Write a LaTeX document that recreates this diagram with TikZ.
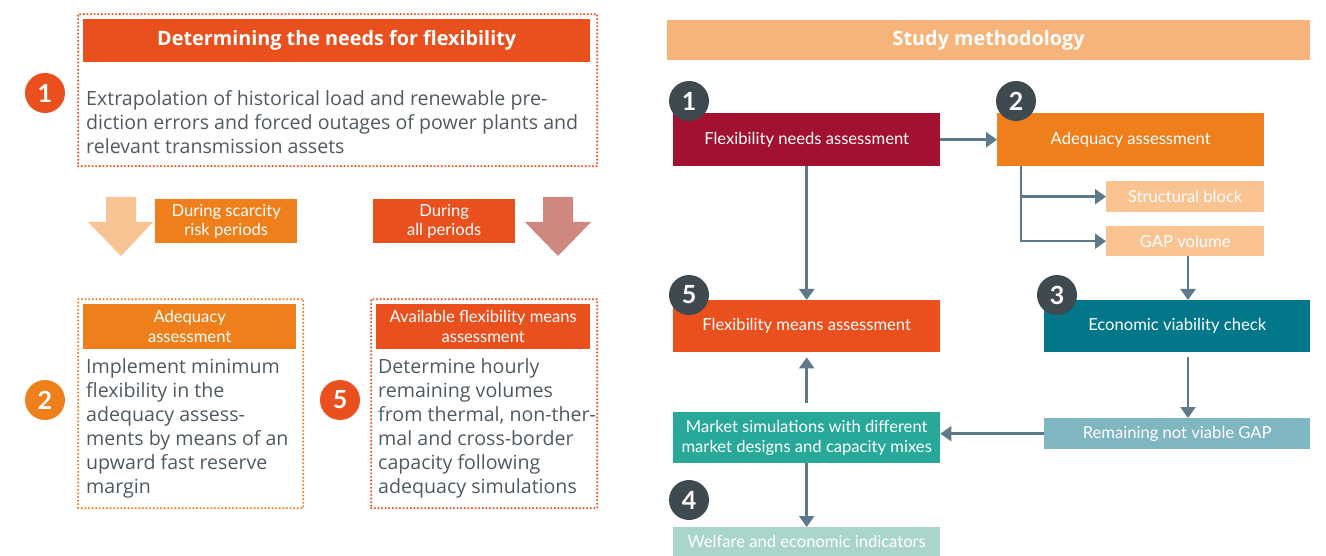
\documentclass[tikz,border=0pt]{standalone}
\usepackage{fontspec}
\setmainfont{Lato}
\newfontfamily\bodyfont{Open Sans}
\usetikzlibrary{arrows.meta,positioning,calc}
\definecolor{flexred}{HTML}{E9501D}
\definecolor{flexorange}{HTML}{EE7F1A}
\definecolor{scarce}{HTML}{F9C493}
\definecolor{rose}{HTML}{CF8880}
\definecolor{ink}{HTML}{4F5A60}
\definecolor{methhead}{HTML}{F6B47A}
\definecolor{needs}{HTML}{A31130}
\definecolor{light}{HTML}{F9C392}
\definecolor{viab}{HTML}{017789}
\definecolor{remain}{HTML}{80B5C2}
\definecolor{market}{HTML}{27A898}
\definecolor{welfare}{HTML}{AAD5CD}
\definecolor{numgrey}{HTML}{3F4A50}
\definecolor{link}{HTML}{5E7A8A}
\tikzset{
  >={Triangle[width=15pt,length=11pt]},
  every node/.style={font=\fontsize{16.6}{19.5}\selectfont},
  dotbox/.style={draw=#1,line width=2.3pt,dash pattern=on 0pt off 3.6pt,line cap=round,anchor=north west,inner sep=0pt},
  hdr/.style={fill=#1,text=white,anchor=north west,inner sep=0pt,align=center},
  bighdr/.style={hdr=#1,font=\bodyfont\fontsize{19.8}{22}\selectfont\bfseries},
  body/.style={text=ink,anchor=north west,inner sep=0pt,align=left,font=\bodyfont\fontsize{19.6}{24}\selectfont},
  tag/.style={fill=#1,text=white,anchor=north west,inner sep=0pt,align=center,minimum width=142pt,minimum height=44pt},
  num/.style={circle,fill=#1,text=white,minimum size=40pt,inner sep=0pt,font=\fontsize{25}{25}\selectfont\bfseries},
  stepbox/.style={fill=#1,text=white,anchor=north west,inner sep=0pt,align=center,minimum width=267pt,minimum height=53pt},
  subbox/.style={stepbox=#1,minimum width=158pt,minimum height=31pt},
  link/.style={->,line width=2.5pt,draw=link},
}

\begin{document}
\begin{tikzpicture}[x=1pt,y=-1pt]
\useasboundingbox (0,0) rectangle (1326,556);

% needs for flexibility
\node[dotbox=flexred,minimum width=519pt,minimum height=152pt] (needs) at (77,13) {};
\node[bighdr=flexred,minimum width=507pt,minimum height=43pt] (needshdr) at (83,19)
{Determining the needs for flexibility};
\node[body] (needstxt) at (86,90)
{Extrapolation of historical load and renewable pre-\\diction errors and forced outages of power plants and\\relevant transmission assets};
\node[num=flexred] (n1) at (45,93) {1};

% block arrows and tags
\fill[scarce] (106,197) -- (136,197) -- (136,222) -- (153,222) -- (121,256) -- (88,222) -- (106,222) -- cycle;
\node[tag=flexorange] (scarcity) at (155,199) {During scarcity\\risk periods};
\node[tag=flexred] (allper) at (373,199) {During\\all periods};
\fill[rose] (543,197) -- (573,197) -- (573,222) -- (591,222) -- (558,256) -- (525,222) -- (543,222) -- cycle;

% adequacy
\node[dotbox=flexorange,minimum width=225pt,minimum height=209pt] (adeq) at (77,298) {};
\node[hdr=flexorange,minimum width=213pt,minimum height=45pt] (adeqhdr) at (83,304) {Adequacy\\assessment};
\node[body] (adeqtxt) at (86,358)
{Implement minimum\\flexibility in the\\adequacy assess-\\ments by means of an\\upward fast reserve\\margin};
\node[num=flexorange] (n2) at (45,400) {2};

% available flexibility means
\node[dotbox=flexred,minimum width=226pt,minimum height=209pt] (avail) at (370,298) {};
\node[hdr=flexred,minimum width=214pt,minimum height=45pt] (availhdr) at (376,304) {Available flexibility means\\assessment};
\node[body] (availtxt) at (378,358)
{Determine hourly\\remaining volumes\\from thermal, non-ther-\\mal and cross-border\\capacity following\\adequacy simulations};
\node[num=flexred] (n5) at (340,400) {5};

% study methodology
\node[bighdr=methhead,minimum width=643pt,minimum height=40pt] (meth) at (667,20)
{Study methodology};

\node[stepbox=needs] (fna) at (673,113) {Flexibility needs assessment};
\node[stepbox=flexorange] (ade) at (997,113) {Adequacy assessment};
\node[subbox=light] (strb) at (1106,181) {Structural block};
\node[subbox=light,minimum height=30pt] (gapv) at (1106,226) {GAP volume};
\node[stepbox=flexred,minimum height=52pt] (fma) at (673,300) {Flexibility means assessment};
\node[stepbox=viab,minimum width=266pt,minimum height=52pt] (eco) at (1044,300) {Economic viability check};
\node[stepbox=remain,minimum width=266pt,minimum height=31pt] (rem) at (1044,418) {Remaining not viable GAP};
\node[stepbox=market,minimum height=51pt] (mkt) at (673,412) {Market simulations with different\\market designs and capacity mixes};
\node[stepbox=welfare,minimum height=29pt] (wel) at (673,527) {Welfare and economic indicators};

\draw[link] (fna.east) -- (ade.west);
\draw[link] ([xshift=24pt]ade.south west) |- (strb.west);
\draw[link] ([xshift=24pt]ade.south west) |- (gapv.west);
\draw[link] ([xshift=82pt]gapv.south west) -- ([xshift=82pt]gapv.south west |- eco.north);
\draw[link] (fna.south) -- (fma.north);
\draw[link,shorten <=5pt] ([xshift=82pt]gapv.south west |- eco.south) -- ([xshift=82pt]gapv.south west |- rem.north);
\draw[link] (rem.west) -- (rem.west -| mkt.east);
\draw[link,shorten <=9pt,shorten >=5pt] (mkt.north) -- (fma.south);
\draw[link] (mkt.south) -- (wel.north);

\node[num=numgrey] (s1) at (689,101) {1};
\node[num=numgrey] (s2) at (1016,101) {2};
\node[num=numgrey] (s5) at (689,295) {5};
\node[num=numgrey] (s3) at (1057,295) {3};
\node[num=numgrey] (s4) at (689,500) {4};

\end{tikzpicture}
\end{document}
